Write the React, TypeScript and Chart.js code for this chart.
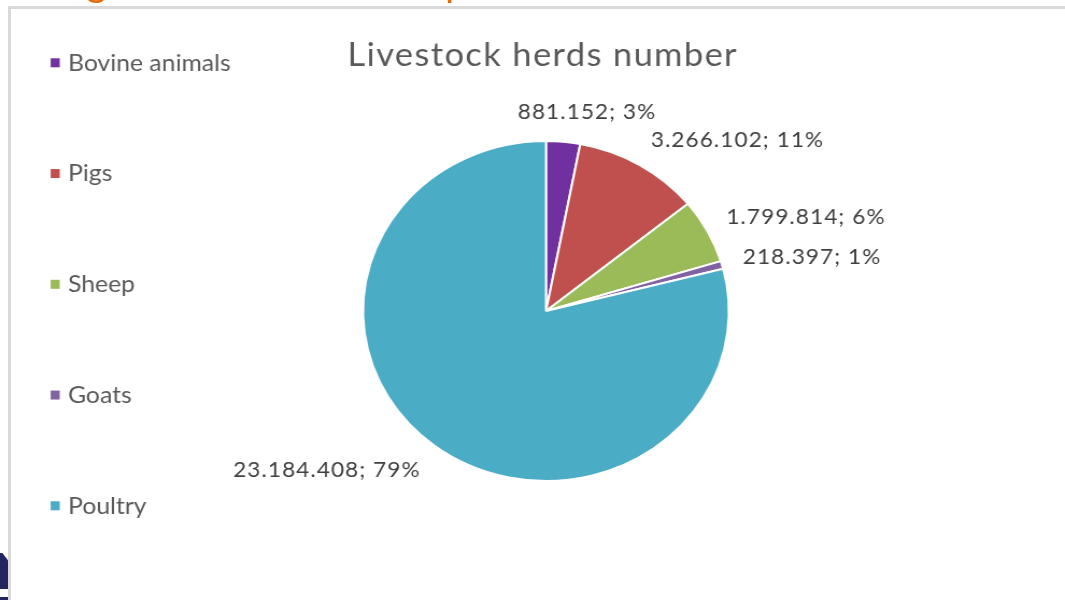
import React, { useEffect, useRef } from "react";
import { Chart, registerables } from "chart.js";

Chart.register(...registerables);

// ---- data ----
const categories = ["Bovine animals", "Pigs", "Sheep", "Goats", "Poultry"];
const herdCounts = [881152, 3266102, 1799814, 218397, 23184408];
const sliceColors = ["#7030A0", "#C0504D", "#9BBB59", "#8064A2", "#4BACC6"];
const chartTitle = "Livestock herds number";

// ---- layout ----
const CANVAS_W = 990;
const CANVAS_H = 600;
const STRETCH = 1065 / CANVAS_W;
const PIE_CX = 546 / STRETCH;
const PIE_CY = 311;
const PIE_R = 170;
const FONT = "Lato, 'Open Sans', sans-serif";

function formatThousands(n: number): string {
  return String(n).replace(/\B(?=(\d{3})+(?!\d))/g, ".");
}

const overlayPlugin = {
  id: "overlay",
  afterDraw(chart: any) {
    const ctx: any = chart.ctx;
    const ds = chart.data.datasets[0];
    const values = ds.data as number[];
    const colors = ds.backgroundColor as string[];
    const labels = chart.data.labels as string[];
    const total = values.reduce((a, b) => a + b, 0);
    const meta = chart.getDatasetMeta(0);
    ctx.save();

    // title
    const first = meta.data[0];
    const cx = first.x;
    ctx.fillStyle = "#595959";
    ctx.font = `32px ${FONT}`;
    ctx.letterSpacing = "1.3px";
    ctx.textAlign = "center";
    ctx.textBaseline = "alphabetic";
    ctx.fillText(chartTitle, cx - 3, 66);

    // legend
    const legendTop = 62;
    const legendStep = 110.75;
    ctx.font = `23px ${FONT}`;
    ctx.letterSpacing = "0px";
    ctx.textAlign = "left";
    labels.forEach((lab, i) => {
      const y = legendTop + i * legendStep;
      ctx.fillStyle = colors[i];
      ctx.fillRect(47.1, y - 3.7, 8.4, 9);
      ctx.fillStyle = "#595959";
      ctx.fillText(lab, 63.2, y + 8.5);
    });

    // data labels
    ctx.font = `21px ${FONT}`;
    ctx.letterSpacing = "1px";
    ctx.fillStyle = "#404040";
    ctx.textAlign = "center";
    const h = 20;
    meta.data.forEach((arc: any, i: number) => {
      const p = arc.getProps(["x", "y", "startAngle", "endAngle", "outerRadius"], true);
      const mid = (p.startAngle + p.endAngle) / 2;
      const R = p.outerRadius + 20;
      const px = p.x + R * Math.cos(mid);
      const py = p.y + R * Math.sin(mid);
      const pct = Math.round((values[i] / total) * 100);
      const text = `${formatThousands(values[i])}; ${pct}%`;
      const w = ctx.measureText(text).width;
      const k = Math.max(-1, Math.min(1, Math.cos(mid) / 0.3));
      const tx = px + (k * w) / 2;
      const ty = py + (Math.sin(mid) * h) / 2;
      ctx.fillText(text, tx, ty + 7.5);
    });
    ctx.restore();
  },
};

export default function App() {
  const canvasRef = useRef<HTMLCanvasElement | null>(null);

  useEffect(() => {
    if (!canvasRef.current) return;
    const chart = new Chart(canvasRef.current, {
      type: "pie",
      data: {
        labels: categories,
        datasets: [
          {
            data: herdCounts,
            backgroundColor: sliceColors,
            borderColor: "#ffffff",
            borderWidth: 2,
          },
        ],
      },
      options: {
        responsive: true,
        maintainAspectRatio: false,
        animation: false,
        radius: PIE_R,
        events: [],
        layout: {
          padding: {
            left: PIE_CX - 250,
            right: CANVAS_W - PIE_CX - 250,
            top: PIE_CY - 220,
            bottom: CANVAS_H - PIE_CY - 220,
          },
        },
        plugins: {
          legend: { display: false },
          title: { display: false },
          tooltip: { enabled: false },
        },
      } as any,
      plugins: [overlayPlugin],
    });
    return () => chart.destroy();
  }, []);

  return (
    <>
      {/* slide fragments around the chart */}
      <div
        style={{
          position: "fixed",
          left: 86,
          top: -39,
          fontFamily: FONT,
          fontSize: 40,
          lineHeight: "40px",
          color: "#E46C0A",
        }}
      >
        g
      </div>
      <div
        style={{
          position: "fixed",
          left: 445,
          top: -39,
          fontFamily: FONT,
          fontSize: 40,
          lineHeight: "40px",
          color: "#E46C0A",
        }}
      >
        p
      </div>
      <div
        style={{
          position: "fixed",
          left: 0,
          top: 553,
          width: 8,
          height: 36,
          background: "#232760",
          clipPath: "polygon(0 0, 30% 0, 100% 20%, 100% 100%, 0 100%)",
        }}
      />
      <div
        style={{
          position: "fixed",
          left: 0,
          top: 597,
          width: 8,
          height: 3,
          background: "#232760",
        }}
      />
      <div
        style={{
          position: "fixed",
          left: 8,
          top: 6,
          width: 1100,
          height: 700,
          border: "3px solid #d9d9d9",
          background: "#ffffff",
        }}
      />
      <div
        style={{
          position: "fixed",
          left: 0,
          top: 0,
          width: CANVAS_W,
          height: CANVAS_H,
          transform: `scaleX(${STRETCH})`,
          transformOrigin: "0 0",
        }}
      >
        <canvas ref={canvasRef} />
      </div>
    </>
  );
}
